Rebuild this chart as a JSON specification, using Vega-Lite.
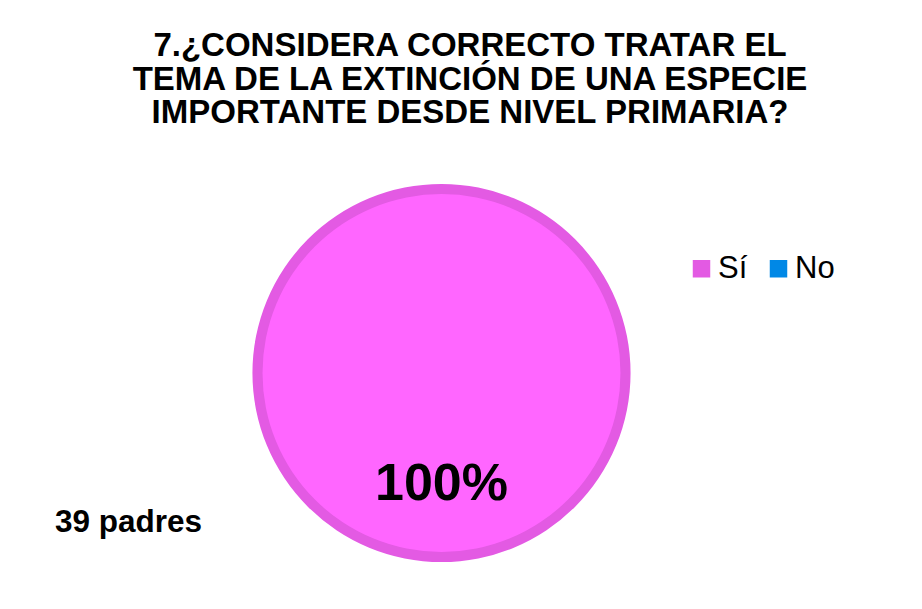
{
  "$schema": "https://vega.github.io/schema/vega-lite/v6.json",
  "width": 379,
  "height": 378,
  "autosize": {"type": "none"},
  "padding": {"left": 252, "top": 184, "right": 291, "bottom": 47},
  "background": "white",
  "config": {"view": {"stroke": null}, "font": "Liberation Sans"},
  "title": {
    "text": ["7.¿CONSIDERA CORRECTO TRATAR EL", "TEMA DE LA EXTINCIÓN DE UNA ESPECIE", "IMPORTANTE DESDE NIVEL PRIMARIA?"],
    "font": "Liberation Sans",
    "fontSize": 33,
    "fontWeight": "bold",
    "color": "#000000",
    "lineHeight": 33.5,
    "anchor": "middle",
    "frame": "group",
    "dx": 28.5,
    "baseline": "alphabetic",
    "offset": 28
  },
  "datasets": {
    "respuestas": [
      {"respuesta": "Sí", "padres": 39, "porcentaje": 1},
      {"respuesta": "No", "padres": 0, "porcentaje": 0}
    ],
    "nota": [{"texto": "39 padres"}]
  },
  "layer": [
    {
      "data": {"name": "respuestas"},
      "transform": [{"filter": "datum.padres > 0"}],
      "mark": {"type": "arc"},
      "encoding": {
        "theta": {"field": "padres", "type": "quantitative", "stack": true},
        "color": {
          "field": "respuesta",
          "type": "nominal",
          "scale": {"domain": ["Sí", "No"], "range": ["#E35AE3", "#0088E6"]},
          "legend": {
            "title": null,
            "orient": "none",
            "legendX": 434,
            "legendY": 69,
            "direction": "horizontal",
            "symbolType": "square",
            "symbolSize": 306,
            "symbolStrokeWidth": 0,
            "labelFontSize": 31,
            "labelFont": "Liberation Sans",
            "labelColor": "#000000",
            "labelOffset": 1,
            "columnPadding": 15,
            "padding": 0
          }
        }
      }
    },
    {
      "data": {"name": "respuestas"},
      "transform": [{"filter": "datum.padres > 0"}],
      "mark": {"type": "arc", "radius": 179, "fill": "#FF66FF"},
      "encoding": {
        "theta": {"field": "padres", "type": "quantitative", "stack": true}
      }
    },
    {
      "data": {"name": "respuestas"},
      "transform": [{"filter": "datum.padres > 0"}],
      "mark": {"type": "text", "radius": 127, "fontSize": 52, "fontWeight": "bold", "baseline": "alphabetic", "align": "center", "color": "#000000"},
      "encoding": {
        "theta": {"field": "padres", "type": "quantitative", "stack": true},
        "text": {"field": "porcentaje", "type": "quantitative", "format": ".0%"}
      }
    },
    {
      "data": {"name": "nota"},
      "mark": {"type": "text", "x": -197, "y": 348, "align": "left", "baseline": "alphabetic", "fontSize": 31.5, "fontWeight": "bold", "color": "#000000"},
      "encoding": {"text": {"field": "texto", "type": "nominal"}}
    }
  ]
}
